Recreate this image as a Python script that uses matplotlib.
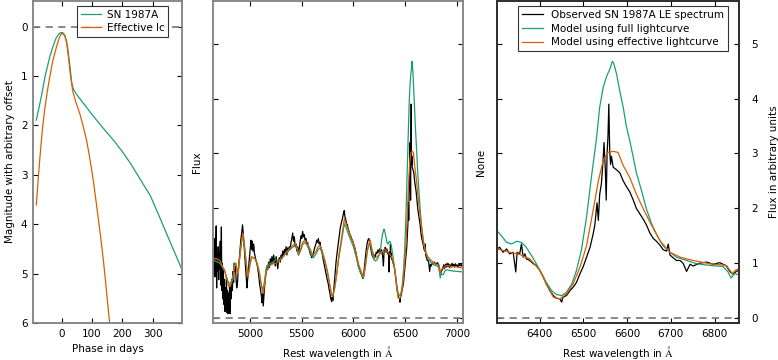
import matplotlib
matplotlib.use("Agg")
import matplotlib.pyplot as plt

plt.rcParams['font.family'] = ['DejaVu Sans']
plt.rcParams['font.size'] = 7.5
plt.rcParams['mathtext.fontset'] = 'cm'

GREEN = '#1b9e77'
ORANGE = '#d95f02'
GREY = '#808080'

# lightcurves (left panel)
sn_phase = [-84, -68, -55, -40, -28, -18, -8, -3, 3, 10, 16, 21, 27, 32, 38, 50, 60,
            100, 140, 171, 200, 227, 260, 293, 324, 360, 399]
sn_mag = [1.89, 1.43, 1.00, 0.62, 0.38, 0.22, 0.14, 0.12, 0.12, 0.17, 0.30, 0.49, 0.80,
          1.10, 1.26, 1.38, 1.46, 1.78, 2.08, 2.30, 2.53, 2.77, 3.10, 3.43, 3.87, 4.39, 4.95]
eff_phase = [-84, -78, -73, -65, -57, -48, -40, -30, -18, -8, -1, 5, 10, 16, 21, 28, 36,
             45, 60, 70, 82, 93, 104, 115, 127, 135, 143, 150, 158, 165]
eff_mag = [3.61, 3.10, 2.71, 2.15, 1.70, 1.32, 1.03, 0.70, 0.42, 0.22, 0.14, 0.15, 0.19,
           0.33, 0.56, 0.95, 1.30, 1.50, 1.77, 2.00, 2.30, 2.68, 3.11, 3.62, 4.19, 4.60,
           5.06, 5.50, 6.00, 6.40]

# observed light echo spectrum
obs_wave = [4645, 4650, 4655, 4660, 4665, 4670, 4676, 4680, 4685, 4690, 4695, 4700, 4705,
            4710, 4715, 4720, 4726, 4730, 4735, 4740, 4745, 4750, 4755, 4760, 4765, 4770,
            4775, 4780, 4785, 4790, 4795, 4800, 4805, 4810, 4815, 4820, 4826, 4832, 4838,
            4844, 4850, 4856, 4862, 4868, 4874, 4880, 4886, 4892, 4900, 4908, 4915, 4922,
            4930, 4936, 4942, 4950, 4958, 4966, 4972, 4978, 4985, 4992, 5000, 5006, 5012,
            5018, 5024, 5030, 5038, 5045, 5052, 5060, 5068, 5076, 5085, 5095, 5105, 5112,
            5118, 5124, 5130, 5136, 5142, 5150, 5158, 5166, 5174, 5182, 5190, 5198, 5206,
            5214, 5222, 5230, 5238, 5246, 5254, 5262, 5270, 5278, 5286, 5294, 5302, 5310,
            5318, 5326, 5334, 5342, 5350, 5358, 5366, 5374, 5382, 5390, 5398, 5406, 5414,
            5422, 5430, 5438, 5446, 5454, 5462, 5470, 5478, 5486, 5494, 5502, 5510, 5518,
            5526, 5534, 5542, 5550, 5558, 5566, 5574, 5582, 5590, 5598, 5606, 5614, 5622,
            5630, 5638, 5646, 5654, 5662, 5670, 5678, 5686, 5694, 5702, 5710, 5718, 5726,
            5734, 5742, 5750, 5758, 5766, 5774, 5782, 5790, 5796, 5802, 5810, 5818, 5826,
            5834, 5842, 5850, 5858, 5866, 5874, 5882, 5890, 5898, 5906, 5912, 5918, 5926,
            5934, 5942, 5950, 5958, 5966, 5974, 5982, 5990, 5998, 6006, 6014, 6022, 6030,
            6038, 6046, 6054, 6062, 6070, 6078, 6086, 6094, 6100, 6108, 6116, 6124, 6132,
            6140, 6148, 6156, 6164, 6172, 6180, 6188, 6196, 6204, 6212, 6220, 6228, 6236,
            6244, 6252, 6260, 6268, 6276, 6284, 6290, 6296,
            6302, 6308, 6316, 6324, 6331, 6339, 6345, 6348, 6354, 6358, 6362, 6366, 6369,
            6377, 6385, 6392, 6400, 6408, 6415, 6423, 6431, 6438, 6446, 6450, 6453, 6461,
            6469, 6476, 6484, 6492, 6499, 6507, 6515, 6522, 6526, 6531, 6534, 6537, 6541,
            6545, 6547, 6550, 6552, 6554, 6556, 6558, 6560, 6562, 6564, 6568, 6576, 6583,
            6591, 6598, 6606, 6614, 6621, 6629, 6637, 6644, 6652, 6660, 6667, 6675, 6682,
            6690, 6694, 6698, 6705, 6713, 6721, 6728, 6736, 6744, 6751, 6766, 6782, 6797,
            6812, 6827, 6835, 6842, 6850, 6858,
            6865, 6872, 6880, 6888, 6896, 6904, 6912, 6920, 6928, 6936, 6944, 6952, 6960,
            6968, 6976, 6984, 6992, 7000, 7010, 7020, 7030, 7040, 7050, 7060]
obs_flux = [1.05, 0.80, 1.25, 1.45, 0.75, 1.10, 1.68, 0.55, 1.15, 0.85, 1.30, 0.70, 1.20,
            0.90, 1.40, 0.60, 1.66, 0.50, 1.00, 0.35, 0.90, 0.25, 0.70, 0.12, 0.55, 0.30,
            0.75, 0.10, 0.50, 0.08, 0.45, 0.20, 0.60, 0.08, 0.55, 0.35, 0.70, 0.50, 0.85,
            0.65, 1.00, 0.85, 0.95, 0.70, 0.55, 0.62, 0.78, 0.95, 1.10, 1.30, 1.45, 1.55,
            1.70, 1.58, 1.40, 1.20, 0.95, 0.75, 0.55, 0.68, 0.80, 1.00, 1.18, 1.30, 1.42,
            1.25, 1.40, 1.22, 1.35, 1.18, 1.12, 1.05, 1.00, 0.92, 0.80, 0.62, 0.50, 0.40,
            0.28, 0.45, 0.22, 0.38, 0.55, 0.72, 0.85, 0.95, 0.88, 1.02, 0.92, 1.08, 0.98,
            1.12, 1.00, 1.15, 1.05, 0.95, 1.12, 1.02, 0.90, 1.05, 1.10, 1.02, 1.15, 1.08,
            1.22, 1.12, 1.25, 1.18, 1.30, 1.15, 1.28, 1.22, 1.30, 1.25, 1.38, 1.45, 1.55,
            1.40, 1.48, 1.30, 1.35, 1.22, 1.30, 1.15, 1.28, 1.40, 1.50, 1.45, 1.58, 1.48,
            1.52, 1.42, 1.45, 1.35, 1.38, 1.28, 1.25, 1.18, 1.15, 1.10, 1.12, 1.18, 1.25,
            1.30, 1.35, 1.42, 1.38, 1.45, 1.35, 1.38, 1.28, 1.22, 1.15, 1.05, 0.98, 0.90,
            0.82, 0.75, 0.68, 0.62, 0.52, 0.45, 0.35, 0.30, 0.38, 0.32, 0.50, 0.68, 0.88,
            1.05, 1.18, 1.30, 1.42, 1.55, 1.65, 1.72, 1.78, 1.85, 1.92, 1.96, 1.85, 1.80,
            1.72, 1.70, 1.62, 1.58, 1.52, 1.50, 1.45, 1.42, 1.38, 1.32, 1.28, 1.20, 1.12,
            1.05, 0.98, 0.92, 0.88, 0.82, 0.80, 0.75, 0.72, 0.80, 0.95, 1.10, 1.25, 1.35,
            1.42, 1.45, 1.40, 1.32, 1.22, 1.15, 1.12, 1.08, 1.15, 1.12, 1.20, 1.18, 1.24,
            1.20, 1.26, 1.18, 1.25, 1.20, 1.10, 0.95, 1.22,
            1.26, 1.29, 1.20, 1.26, 1.17, 1.20, 0.84, 1.20, 1.17, 1.35, 1.11, 1.17, 1.08,
            1.05, 0.99, 0.96, 0.87, 0.75, 0.62, 0.50, 0.41, 0.36, 0.35, 0.29, 0.38, 0.41,
            0.50, 0.56, 0.65, 0.81, 0.93, 1.11, 1.29, 1.53, 1.70, 2.10, 1.78, 2.25, 2.45,
            2.90, 3.20, 2.70, 2.15, 3.00, 3.30, 3.90, 3.05, 2.80, 2.95, 2.75, 2.70, 2.65,
            2.50, 2.40, 2.30, 2.15, 2.00, 1.90, 1.80, 1.70, 1.55, 1.45, 1.40, 1.33, 1.25,
            1.22, 1.35, 1.15, 1.10, 1.05, 1.05, 1.00, 0.85, 0.98, 0.95, 1.00, 1.02, 0.98,
            1.01, 0.95, 0.85, 0.80, 0.85, 0.88,
            0.92, 0.97, 0.90, 0.98, 0.93, 1.00, 0.94, 0.99, 0.92, 0.97, 0.93, 1.00, 0.95,
            0.98, 0.93, 0.99, 0.95, 0.97, 0.93, 0.99, 0.95, 0.98, 0.94, 0.96]

# model using full lightcurve
full_wave = [4645, 4680, 4710, 4735, 4758, 4780, 4800, 4820, 4839, 4852, 4865, 4878, 4887,
             4900, 4920, 4935, 4950, 4968, 4984, 5000, 5016, 5035, 5050, 5070, 5090, 5110,
             5129, 5145, 5160, 5180, 5200, 5226, 5250, 5274, 5300, 5323, 5350, 5387, 5420,
             5440, 5455, 5470, 5490, 5510, 5532, 5555, 5581, 5600, 5613, 5640, 5660, 5677,
             5700, 5726, 5750, 5774, 5790, 5800, 5820, 5839, 5860, 5887, 5913, 5930, 5952,
             5975, 6000, 6025, 6048, 6075, 6097, 6115, 6135, 6161, 6180, 6200, 6215, 6232,
             6250, 6265, 6280, 6295,
             6302, 6312, 6324, 6335, 6347, 6358, 6369, 6381, 6392, 6404, 6415, 6427, 6438,
             6450, 6461, 6473, 6484, 6495, 6507, 6518, 6530, 6537, 6545, 6553, 6560, 6566,
             6569, 6576, 6583, 6591, 6598, 6606, 6614, 6621, 6633, 6644, 6656, 6667, 6682,
             6698, 6713, 6736, 6759, 6789, 6819, 6831, 6838, 6846, 6856,
             6870, 6885, 6900, 6950, 7000, 7060]
full_flux = [1.06, 1.03, 1.00, 0.93, 0.85, 0.72, 0.62, 0.66, 0.78, 1.00, 1.00, 0.88, 0.83,
             1.05, 1.38, 1.50, 1.28, 0.95, 0.78, 0.96, 1.10, 1.10, 1.08, 1.00, 0.86, 0.62,
             0.50, 0.72, 0.92, 0.98, 1.00, 1.02, 1.06, 1.05, 1.08, 1.13, 1.18, 1.25, 1.30,
             1.32, 1.26, 1.15, 1.22, 1.34, 1.38, 1.32, 1.22, 1.13, 1.10, 1.17, 1.25, 1.28,
             1.18, 1.02, 0.82, 0.58, 0.43, 0.40, 0.55, 0.80, 1.10, 1.42, 1.72, 1.65, 1.53,
             1.42, 1.30, 1.13, 0.93, 0.80, 0.72, 0.92, 1.22, 1.40, 1.20, 1.06, 1.04, 1.08,
             1.15, 1.30, 1.52, 1.62,
             1.59, 1.50, 1.38, 1.35, 1.40, 1.38, 1.29, 1.14, 0.99, 0.81, 0.65, 0.50, 0.43,
             0.41, 0.47, 0.62, 0.87, 1.23, 1.84, 2.56, 3.29, 3.84, 4.20, 4.41, 4.53, 4.68,
             4.65, 4.44, 4.14, 3.84, 3.50, 3.23, 2.93, 2.65, 2.32, 1.99, 1.72, 1.53, 1.32,
             1.20, 1.11, 1.05, 0.99, 0.96, 0.94, 0.84, 0.73, 0.81, 0.79,
             0.80, 0.86, 0.88, 0.86, 0.85, 0.84]

# model using effective lightcurve
eff_wave = [4645, 4680, 4710, 4735, 4758, 4780, 4800, 4820, 4839, 4852, 4865, 4878, 4887,
            4900, 4920, 4935, 4950, 4968, 4984, 5000, 5016, 5035, 5050, 5070, 5090, 5110,
            5129, 5145, 5160, 5180, 5200, 5226, 5250, 5274, 5300, 5323, 5350, 5387, 5420,
            5440, 5455, 5470, 5490, 5510, 5532, 5555, 5581, 5600, 5613, 5640, 5660, 5677,
            5700, 5726, 5750, 5774, 5790, 5800, 5820, 5839, 5860, 5887, 5913, 5930, 5952,
            5975, 6000, 6025, 6048, 6075, 6097, 6115, 6135, 6161, 6180, 6200, 6215, 6232,
            6255, 6274, 6290,
            6302, 6331, 6354, 6377, 6400, 6415, 6431, 6446, 6461, 6476, 6492, 6507, 6522,
            6534, 6545, 6556, 6568, 6579, 6591, 6606, 6621, 6637, 6652, 6675, 6698, 6721,
            6751, 6789, 6827, 6835, 6841, 6849, 6858,
            6870, 6885, 6900, 6950, 7000, 7060]
eff_flux = [1.09, 1.08, 1.05, 0.95, 0.87, 0.70, 0.57, 0.62, 0.72, 0.95, 0.99, 0.85, 0.81,
            1.05, 1.40, 1.54, 1.30, 0.95, 0.75, 0.95, 1.12, 1.10, 1.08, 1.00, 0.85, 0.60,
            0.45, 0.65, 0.85, 0.93, 0.97, 0.99, 1.00, 1.02, 1.07, 1.12, 1.20, 1.27, 1.33,
            1.36, 1.30, 1.18, 1.25, 1.38, 1.42, 1.35, 1.27, 1.18, 1.15, 1.22, 1.30, 1.33,
            1.22, 1.05, 0.85, 0.57, 0.42, 0.39, 0.55, 0.81, 1.15, 1.48, 1.81, 1.72, 1.60,
            1.48, 1.36, 1.20, 0.99, 0.85, 0.75, 0.95, 1.25, 1.42, 1.25, 1.12, 1.10, 1.12,
            1.18, 1.21, 1.24,
            1.26, 1.20, 1.16, 1.08, 0.87, 0.62, 0.38, 0.35, 0.44, 0.62, 0.93, 1.32, 1.96,
            2.50, 2.87, 3.02, 3.04, 3.02, 2.78, 2.56, 2.26, 1.99, 1.75, 1.41, 1.20, 1.11,
            1.05, 0.99, 0.96, 0.87, 0.81, 0.88, 0.90,
            0.90, 0.95, 0.96, 0.94, 0.93, 0.91]


def style_axes(ax, spine_color):
    for s in ax.spines.values():
        s.set_color(spine_color)
        s.set_linewidth(1.3)
    ax.tick_params(direction='in', top=True, right=True, length=3.5, width=0.8,
                   color='black', pad=4)


fig = plt.figure(figsize=(7.78, 3.6), dpi=100)
ax1 = fig.add_axes([33 / 778, 37 / 360, 149 / 778, 322 / 360])
ax2 = fig.add_axes([213 / 778, 37 / 360, 250 / 778, 322 / 360])
ax3 = fig.add_axes([497 / 778, 37 / 360, 242 / 778, 322 / 360])

# left: lightcurves
ax1.axhline(0, color=GREY, ls='--', lw=1.3, dashes=(4, 3))
ax1.plot(sn_phase, sn_mag, color=GREEN, lw=0.9, label='SN 1987A')
ax1.plot(eff_phase, eff_mag, color=ORANGE, lw=0.9, label='Effective lc')
ax1.set_xlim(-95, 397)
ax1.set_ylim(6, -0.52)
ax1.set_xticks([0, 100, 200, 300])
ax1.set_yticks([0, 1, 2, 3, 4, 5, 6])
ax1.set_xlabel('Phase in days')
ax1.set_ylabel('Magnitude with arbitrary offset')
style_axes(ax1, GREY)
leg = ax1.legend(loc='upper right', bbox_to_anchor=(0.92, 0.99), fancybox=False,
                 edgecolor='black', handlelength=2.0, borderpad=0.35, labelspacing=0.3,
                 handletextpad=0.5, borderaxespad=0.2)
leg.get_frame().set_linewidth(0.8)

# middle: full spectrum
ax2.axhline(0, color=GREY, ls='--', lw=1.3, dashes=(4, 3))
ax2.plot(obs_wave, obs_flux, color='black', lw=0.9)
ax2.plot(full_wave, full_flux, color=GREEN, lw=0.9)
ax2.plot(eff_wave, eff_flux, color=ORANGE, lw=0.9)
ax2.set_xlim(4645, 7058)
ax2.set_ylim(-0.09, 5.78)
ax2.set_xticks([5000, 5500, 6000, 6500, 7000])
ax2.set_yticks([0, 1, 2, 3, 4, 5])
ax2.set_yticklabels([])
ax2.set_xlabel(r'Rest wavelength in $\mathrm{\AA}$')
ax2.set_ylabel('Flux')
style_axes(ax2, GREY)

# right: H-alpha zoom
ax3.axhline(0, color=GREY, ls='--', lw=1.3, dashes=(4, 3))
ax3.plot(obs_wave, obs_flux, color='black', lw=0.9, label='Observed SN 1987A LE spectrum')
ax3.plot(full_wave, full_flux, color=GREEN, lw=0.9, label='Model using full lightcurve')
ax3.plot(eff_wave, eff_flux, color=ORANGE, lw=0.9, label='Model using effective lightcurve')
ax3.set_xlim(6302, 6856)
ax3.set_ylim(-0.09, 5.78)
ax3.set_xticks([6400, 6500, 6600, 6700, 6800])
ax3.set_yticks([0, 1, 2, 3, 4, 5])
ax3.set_yticklabels([])
ax3.set_xlabel(r'Rest wavelength in $\mathrm{\AA}$')
ax3.set_ylabel('None')
style_axes(ax3, '#303030')
leg3 = ax3.legend(loc='upper center', bbox_to_anchor=(0.52, 0.99), fancybox=False,
                  edgecolor='black', handlelength=2.0, borderpad=0.35, labelspacing=0.35,
                  handletextpad=0.8, borderaxespad=0.2)
leg3.get_frame().set_linewidth(0.8)

tw = ax3.twinx()
tw.set_ylim(ax3.get_ylim())
tw.set_yticks([0, 1, 2, 3, 4, 5])
tw.set_ylabel('Flux in arbitrary units', labelpad=8)
tw.tick_params(direction='in', length=3.5, width=0.8, pad=9)
for s in tw.spines.values():
    s.set_color('#303030')
    s.set_linewidth(1.3)

fig.savefig('out.png', dpi=100)
